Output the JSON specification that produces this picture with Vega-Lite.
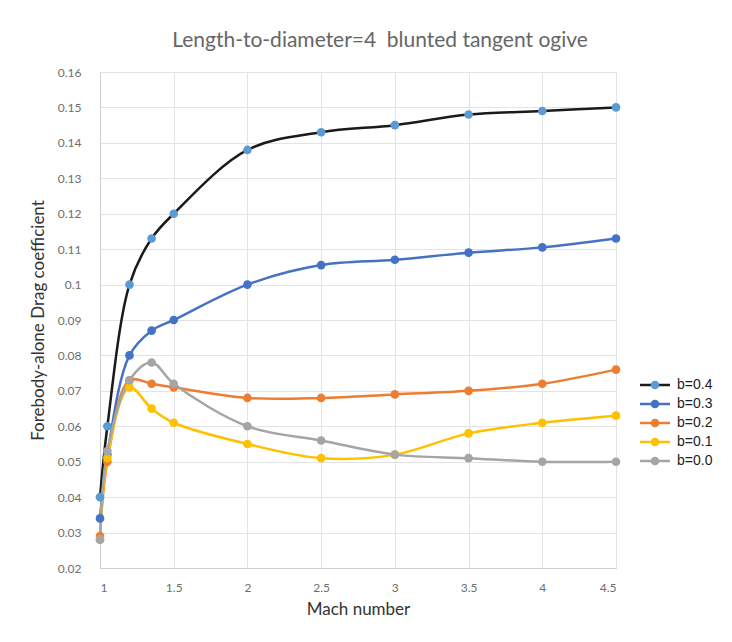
{
  "$schema": "https://vega.github.io/schema/vega-lite/v6.json",
  "autosize": "none",
  "width": 516,
  "height": 496,
  "padding": {"left": 100, "top": 72, "right": 116, "bottom": 74},
  "background": "white",
  "title": {
    "text": "Length-to-diameter=4\u2002blunted tangent ogive",
    "font": "Lato",
    "fontSize": 21,
    "fontWeight": "normal",
    "color": "#666666",
    "anchor": "middle",
    "dx": 22,
    "offset": 15
  },
  "config": {
    "view": {"stroke": "#d9d9d9"},
    "axis": {
      "gridColor": "#e3e3e3",
      "domainColor": "#d0d0d0",
      "ticks": false,
      "labelColor": "#6e6e6e",
      "labelFont": "Lato",
      "labelFontSize": 12,
      "titleFont": "Lato",
      "titleFontSize": 17,
      "titleFontWeight": "normal",
      "titleColor": "#333333"
    }
  },
  "data": {
    "values": [
      {"b": "b=0.4", "mach": 1.0, "cd": 0.040},
      {"b": "b=0.4", "mach": 1.05, "cd": 0.060},
      {"b": "b=0.4", "mach": 1.2, "cd": 0.100},
      {"b": "b=0.4", "mach": 1.35, "cd": 0.113},
      {"b": "b=0.4", "mach": 1.5, "cd": 0.120},
      {"b": "b=0.4", "mach": 2.0, "cd": 0.138},
      {"b": "b=0.4", "mach": 2.5, "cd": 0.143},
      {"b": "b=0.4", "mach": 3.0, "cd": 0.145},
      {"b": "b=0.4", "mach": 3.5, "cd": 0.148},
      {"b": "b=0.4", "mach": 4.0, "cd": 0.149},
      {"b": "b=0.4", "mach": 4.5, "cd": 0.150},
      {"b": "b=0.3", "mach": 1.0, "cd": 0.034},
      {"b": "b=0.3", "mach": 1.05, "cd": 0.052},
      {"b": "b=0.3", "mach": 1.2, "cd": 0.080},
      {"b": "b=0.3", "mach": 1.35, "cd": 0.087},
      {"b": "b=0.3", "mach": 1.5, "cd": 0.090},
      {"b": "b=0.3", "mach": 2.0, "cd": 0.100},
      {"b": "b=0.3", "mach": 2.5, "cd": 0.1055},
      {"b": "b=0.3", "mach": 3.0, "cd": 0.107},
      {"b": "b=0.3", "mach": 3.5, "cd": 0.109},
      {"b": "b=0.3", "mach": 4.0, "cd": 0.1105},
      {"b": "b=0.3", "mach": 4.5, "cd": 0.113},
      {"b": "b=0.2", "mach": 1.0, "cd": 0.029},
      {"b": "b=0.2", "mach": 1.05, "cd": 0.050},
      {"b": "b=0.2", "mach": 1.2, "cd": 0.073},
      {"b": "b=0.2", "mach": 1.35, "cd": 0.072},
      {"b": "b=0.2", "mach": 1.5, "cd": 0.071},
      {"b": "b=0.2", "mach": 2.0, "cd": 0.068},
      {"b": "b=0.2", "mach": 2.5, "cd": 0.068},
      {"b": "b=0.2", "mach": 3.0, "cd": 0.069},
      {"b": "b=0.2", "mach": 3.5, "cd": 0.070},
      {"b": "b=0.2", "mach": 4.0, "cd": 0.072},
      {"b": "b=0.2", "mach": 4.5, "cd": 0.076},
      {"b": "b=0.1", "mach": 1.0, "cd": 0.028},
      {"b": "b=0.1", "mach": 1.05, "cd": 0.051},
      {"b": "b=0.1", "mach": 1.2, "cd": 0.071},
      {"b": "b=0.1", "mach": 1.35, "cd": 0.065},
      {"b": "b=0.1", "mach": 1.5, "cd": 0.061},
      {"b": "b=0.1", "mach": 2.0, "cd": 0.055},
      {"b": "b=0.1", "mach": 2.5, "cd": 0.051},
      {"b": "b=0.1", "mach": 3.0, "cd": 0.052},
      {"b": "b=0.1", "mach": 3.5, "cd": 0.058},
      {"b": "b=0.1", "mach": 4.0, "cd": 0.061},
      {"b": "b=0.1", "mach": 4.5, "cd": 0.063},
      {"b": "b=0.0", "mach": 1.0, "cd": 0.028},
      {"b": "b=0.0", "mach": 1.05, "cd": 0.053},
      {"b": "b=0.0", "mach": 1.2, "cd": 0.073},
      {"b": "b=0.0", "mach": 1.35, "cd": 0.078},
      {"b": "b=0.0", "mach": 1.5, "cd": 0.072},
      {"b": "b=0.0", "mach": 2.0, "cd": 0.060},
      {"b": "b=0.0", "mach": 2.5, "cd": 0.056},
      {"b": "b=0.0", "mach": 3.0, "cd": 0.052},
      {"b": "b=0.0", "mach": 3.5, "cd": 0.051},
      {"b": "b=0.0", "mach": 4.0, "cd": 0.050},
      {"b": "b=0.0", "mach": 4.5, "cd": 0.050}
    ]
  },
  "encoding": {
    "x": {
      "field": "mach",
      "type": "quantitative",
      "scale": {"domain": [1, 4.5], "nice": false, "zero": false},
      "axis": {
        "values": [1, 1.5, 2, 2.5, 3, 3.5, 4, 4.5],
        "format": "~g",
        "title": "Mach number",
        "labelPadding": 14,
        "titlePadding": 8
      }
    },
    "y": {
      "field": "cd",
      "type": "quantitative",
      "scale": {"domain": [0.02, 0.16], "nice": false, "zero": false},
      "axis": {
        "values": [0.02, 0.03, 0.04, 0.05, 0.06, 0.07, 0.08, 0.09, 0.1, 0.11, 0.12, 0.13, 0.14, 0.15, 0.16],
        "format": "~g",
        "title": "Forebody-alone Drag coefficient",
        "labelPadding": 19,
        "titlePadding": 10
      }
    }
  },
  "layer": [
    {
      "mark": {"type": "line", "interpolate": "catmull-rom", "strokeWidth": 2.5},
      "encoding": {
        "stroke": {
          "field": "b",
          "type": "nominal",
          "scale": {
            "domain": ["b=0.4", "b=0.3", "b=0.2", "b=0.1", "b=0.0"],
            "range": ["#1a1a1a", "#4472C4", "#ED7D31", "#FFC000", "#A5A5A5"]
          },
          "legend": {
            "orient": "none",
            "legendX": 548,
            "legendY": 306,
            "title": null,
            "symbolType": "M-3,0H3",
            "symbolSize": 100,
            "symbolStrokeWidth": 2.5,
            "labelFont": "Liberation Sans",
            "labelFontSize": 14,
            "labelColor": "#222222",
            "labelOffset": 15,
            "rowPadding": 5
          }
        }
      }
    },
    {
      "mark": {"type": "point", "filled": true, "opacity": 1, "size": 75},
      "encoding": {
        "fill": {
          "field": "b",
          "type": "nominal",
          "sort": "descending",
          "scale": {
            "range": ["#5B9BD5", "#4472C4", "#ED7D31", "#FFC000", "#A5A5A5"]
          },
          "legend": {
            "orient": "none",
            "legendX": 548,
            "legendY": 306,
            "title": null,
            "symbolType": "circle",
            "symbolSize": 75,
            "labelExpr": "''",
            "labelFontSize": 14,
            "rowPadding": 5
          }
        }
      }
    }
  ]
}
